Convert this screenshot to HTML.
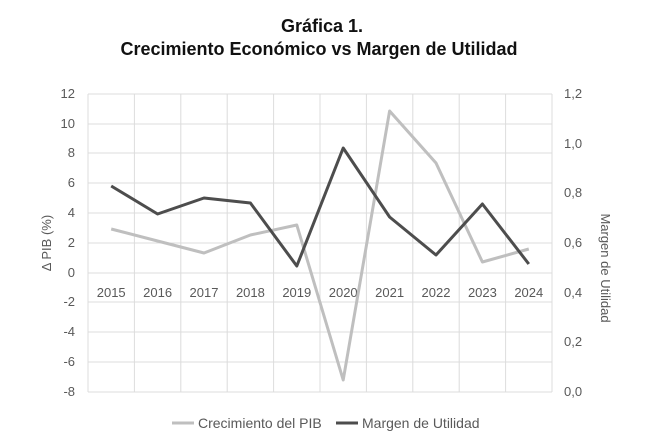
<!DOCTYPE html>
<html><head><meta charset="utf-8"><style>
body{margin:0;background:#fff;}
svg{display:block;font-family:"Liberation Sans",sans-serif;}
</style></head><body>
<svg width="654" height="443" viewBox="0 0 654 443">
<text x="322" y="32" text-anchor="middle" font-size="18" font-weight="bold" fill="#111">Gráfica 1.</text>
<text x="319" y="55" text-anchor="middle" font-size="18" font-weight="bold" fill="#111">Crecimiento Económico vs Margen de Utilidad</text>
<g stroke="#dcdcdc" stroke-width="1">
<line x1="88" y1="94" x2="552" y2="94"/><line x1="88" y1="124" x2="552" y2="124"/>
<line x1="88" y1="153" x2="552" y2="153"/><line x1="88" y1="183" x2="552" y2="183"/>
<line x1="88" y1="213" x2="552" y2="213"/><line x1="88" y1="243" x2="552" y2="243"/>
<line x1="88" y1="273" x2="552" y2="273"/><line x1="88" y1="302" x2="552" y2="302"/>
<line x1="88" y1="332" x2="552" y2="332"/><line x1="88" y1="362" x2="552" y2="362"/>
<line x1="88" y1="392" x2="552" y2="392"/>
<line x1="88" y1="94" x2="88" y2="392"/><line x1="134.4" y1="94" x2="134.4" y2="392"/>
<line x1="180.8" y1="94" x2="180.8" y2="392"/><line x1="227.2" y1="94" x2="227.2" y2="392"/>
<line x1="273.6" y1="94" x2="273.6" y2="392"/><line x1="320" y1="94" x2="320" y2="392"/>
<line x1="366.4" y1="94" x2="366.4" y2="392"/><line x1="412.8" y1="94" x2="412.8" y2="392"/>
<line x1="459.2" y1="94" x2="459.2" y2="392"/><line x1="505.6" y1="94" x2="505.6" y2="392"/>
<line x1="552" y1="94" x2="552" y2="392"/>
</g>
<g font-size="13" fill="#595959" text-anchor="end">
<text x="75" y="98">12</text><text x="75" y="128">10</text><text x="75" y="157">8</text>
<text x="75" y="187">6</text><text x="75" y="217">4</text><text x="75" y="247">2</text>
<text x="75" y="277">0</text><text x="75" y="306">-2</text><text x="75" y="336">-4</text>
<text x="75" y="366">-6</text><text x="75" y="396">-8</text>
</g>
<g font-size="13" fill="#595959" text-anchor="start">
<text x="564" y="98">1,2</text><text x="564" y="148">1,0</text><text x="564" y="197">0,8</text>
<text x="564" y="247">0,6</text><text x="564" y="297">0,4</text><text x="564" y="346">0,2</text>
<text x="564" y="396">0,0</text>
</g>
<g font-size="13" fill="#595959" text-anchor="middle">
<text x="111.2" y="297">2015</text><text x="157.6" y="297">2016</text><text x="204" y="297">2017</text>
<text x="250.4" y="297">2018</text><text x="296.8" y="297">2019</text><text x="343.2" y="297">2020</text>
<text x="389.6" y="297">2021</text><text x="436" y="297">2022</text><text x="482.4" y="297">2023</text>
<text x="528.8" y="297">2024</text>
</g>
<text transform="translate(51,243) rotate(-90)" text-anchor="middle" font-size="13" fill="#595959">Δ PIB (%)</text>
<text transform="translate(601,268) rotate(90)" text-anchor="middle" font-size="13" fill="#595959">Margen de Utilidad</text>
<polyline fill="none" stroke="#bfbfbf" stroke-width="3" stroke-linejoin="round" points="111.2,229 157.6,241 204,253 250.4,235 296.8,225 343.2,380 389.6,111 436,163 482.4,262 528.8,249"/>
<polyline fill="none" stroke="#4d4d4d" stroke-width="3" stroke-linejoin="round" points="111.2,186 157.6,214 204,198 250.4,203 296.8,266 343.2,148 389.6,217 436,255 482.4,204 528.8,264"/>
<line x1="172" y1="423" x2="194" y2="423" stroke="#bfbfbf" stroke-width="3"/>
<text x="198" y="428" font-size="14" fill="#595959">Crecimiento del PIB</text>
<line x1="336" y1="423" x2="358" y2="423" stroke="#4d4d4d" stroke-width="3"/>
<text x="362" y="428" font-size="14" fill="#595959">Margen de Utilidad</text>
</svg>
</body></html>
